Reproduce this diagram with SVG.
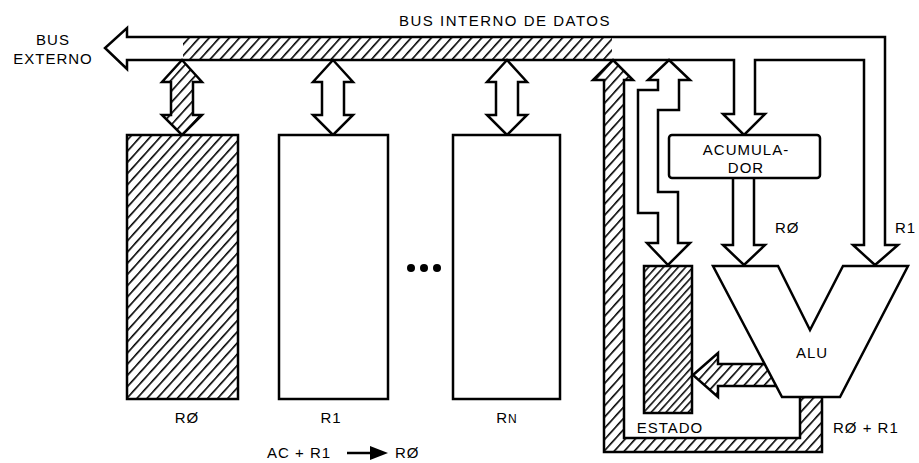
<svg xmlns="http://www.w3.org/2000/svg" width="919" height="463" viewBox="0 0 919 463">
<style>
.ln{fill:none;stroke:#000;stroke-width:2.5;stroke-linejoin:miter}
.wh{fill:#fff;stroke:#000;stroke-width:2.5}
.ht{fill:url(#hatch);stroke:#000;stroke-width:2.5}
.hf{fill:url(#hatchFine);stroke:#000;stroke-width:2.5}
.t{font-family:"Liberation Sans",Arial,sans-serif;font-size:15px;fill:#000;letter-spacing:1px}
.c{text-anchor:middle}
</style>
<defs>
<pattern id="hatch" patternUnits="userSpaceOnUse" width="7.5" height="20" patternTransform="rotate(42)">
<rect width="7.5" height="20" fill="#fff"/>
<line x1="0.8" y1="0" x2="0.8" y2="20" stroke="#000" stroke-width="1.6"/>
</pattern>
<pattern id="hatchFine" patternUnits="userSpaceOnUse" width="5.5" height="20" patternTransform="rotate(42)">
<rect width="5.5" height="20" fill="#fff"/>
<line x1="0.8" y1="0" x2="0.8" y2="20" stroke="#000" stroke-width="1.5"/>
</pattern>
</defs>

<g id="connectors">
<g id="bus">
<path d="M127,60 L127,69 L105,48 L127,28 L127,37 L885,37 L885,245 L898,245 L875,265 L853,245 L864,245 L864,60 L755,60 L755,114 L765,114 L744,135 L723,114 L734,114 L734,60 Z" fill="#fff"/>
<rect x="183" y="37" width="429" height="23" fill="url(#hatch)"/>
<path class="ln" d="M127,60 L127,69 L105,48 L127,28 L127,37 L885,37 L885,245 L898,245 L875,265 L853,245 L864,245 L864,60 L755,60 L755,114 L765,114 L744,135 L723,114 L734,114 L734,60 Z"/>
</g>
<path id="arrow-r0" class="ht" d="M182,60 L202,82 L193,82 L193,115 L202,115 L182,135 L162,115 L171,115 L171,82 L162,82 Z"/>
<path id="arrow-r1" class="wh" d="M333,60 L353,82 L344,82 L344,115 L353,115 L333,135 L313,115 L322,115 L322,82 L313,82 Z"/>
<path id="arrow-rn" class="wh" d="M507,60 L527,82 L518,82 L518,115 L527,115 L507,135 L487,115 L496,115 L496,82 L487,82 Z"/>
<path id="feedback" class="ht" d="M613,60 L633,80 L624,80 L624,438 L800,438 L800,397 L822,397 L822,452 L604,452 L604,80 L593,80 Z"/>
<path id="arrow-estado" class="wh" d="M669,60 L690,80 L679,80 L679,110 L658,110 L658,192 L678,192 L678,243 L690,243 L668,265 L647,243 L658,243 L658,213 L638,213 L638,90 L658,90 L658,80 L648,80 Z"/>
<path id="arrow-acc-alu" class="wh" d="M733,178 L733,245 L723,245 L744,265 L765,245 L754,245 L754,178"/>
<path id="arrow-alu-estado" class="ht" d="M693,375 L718,353 L718,364 L770,364 L780,386 L718,386 L718,397 Z"/>
<g id="op-arrow">
<line x1="347" y1="453" x2="372" y2="453" stroke="#000" stroke-width="2.5"/>
<polygon points="370,446 388,453 370,460" fill="#000"/>
</g>
</g>

<g id="reg-r0">
<rect class="ht" x="127" y="135" width="111" height="264"/>
<text class="t c" x="187" y="423">RØ</text>
</g>
<g id="reg-r1">
<rect class="wh" x="279" y="135" width="109" height="264"/>
<text class="t c" x="331" y="423">R1</text>
</g>
<g id="dots">
<circle cx="411" cy="268" r="4"/>
<circle cx="424" cy="268" r="4"/>
<circle cx="437" cy="268" r="4"/>
</g>
<g id="reg-rn">
<rect class="wh" x="453" y="135" width="107" height="264"/>
<text class="t c" x="507" y="423">R<tspan font-size="12">N</tspan></text>
</g>
<g id="acumulador">
<rect class="wh" x="669" y="135" width="151" height="43" rx="3"/>
<text class="t c" x="746" y="155">ACUMULA-</text>
<text class="t c" x="746" y="173">DOR</text>
</g>
<g id="alu">
<polygon class="wh" points="713,266 778,266 810,330 843,266 908,266 840,397 782,397"/>
<text class="t c" x="812" y="358">ALU</text>
</g>
<g id="estado">
<rect class="hf" x="644" y="266" width="48" height="147"/>
<text class="t c" x="670" y="433">ESTADO</text>
</g>

<g id="labels">
<text class="t" x="399" y="26" style="letter-spacing:1.5px">BUS INTERNO DE DATOS</text>
<text class="t c" x="53" y="45">BUS</text>
<text class="t c" x="53" y="64">EXTERNO</text>
<text class="t" x="775" y="233">RØ</text>
<text class="t" x="895" y="233">R1</text>
<text class="t" x="833" y="433">RØ + R1</text>
<text class="t" x="267" y="458">AC + R1</text>
<text class="t" x="395" y="458">RØ</text>
</g>
</svg>
